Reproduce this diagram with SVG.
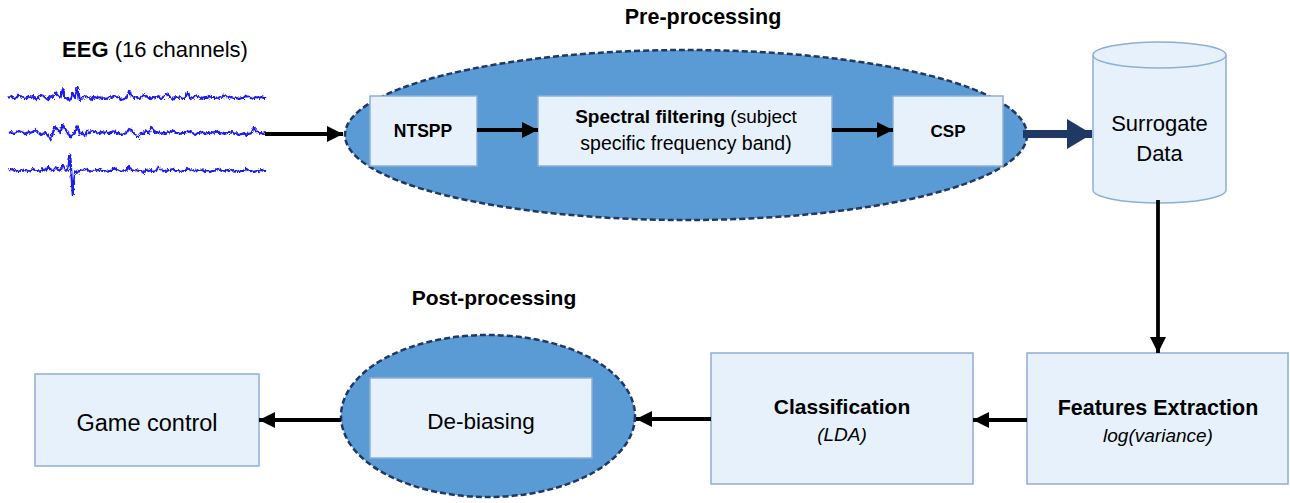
<svg xmlns="http://www.w3.org/2000/svg" width="1290" height="503" viewBox="0 0 1290 503">
  <style>
    text { font-family: "Liberation Sans", Arial, sans-serif; fill: #000; text-anchor: middle; }
    .b { font-weight: bold; }
    .i { font-style: italic; }
    .box { fill: #E6F1FC; stroke: #8FAED6; stroke-width: 1.5; }
    .zone { fill: #5B9BD5; stroke: #203864; stroke-width: 2.5; stroke-dasharray: 6 3; }
    .wave { fill: none; stroke: #1A1AF0; stroke-width: 2.2; stroke-linejoin: round; }
    .arr { fill: none; stroke: #000; stroke-width: 3.8; marker-end: url(#head); }
  </style>
  <defs>
    <marker id="head" markerUnits="userSpaceOnUse" markerWidth="17" markerHeight="18" refX="16" refY="9" orient="auto">
      <path d="M0,1 L16,9 L0,17 Z" fill="#000"/>
    </marker>
    <marker id="headBig" markerUnits="userSpaceOnUse" markerWidth="26" markerHeight="32" refX="25" refY="16" orient="auto">
      <path d="M0,1 L25,16 L0,31 Z" fill="#203864"/>
    </marker>
    <!-- fine jitter for the recorded signal traces -->
    <filter id="jitter" x="-2%" y="-40%" width="104%" height="180%">
      <feTurbulence type="turbulence" baseFrequency="0.6 0.2" numOctaves="2" seed="3" result="n"/>
      <feDisplacementMap in="SourceGraphic" in2="n" scale="3" xChannelSelector="R" yChannelSelector="G"/>
    </filter>
  </defs>

  <!-- EEG input signals -->
  <g id="eeg">
    <text x="155" y="57" font-size="22"><tspan class="b">EEG</tspan> (16 channels)</text>
    <g filter="url(#jitter)">
    <path class="wave" d="M8,97 l2.45,-2 2.45,3 2.45,-1 2.45,-3 2.45,2 2.45,1 2.45,1 2.45,-3 2.45,2 2.45,-2 2.45,4 2.45,-2 2.45,-3 2.45,1 2.45,2 2.45,2 2.45,-4 2.45,2 2.45,-5 2.45,3 2.45,2 2.45,-9 2.45,10 2.45,-1 2.45,3 2.45,-7 2.45,4 2.45,-10 2.45,13 2.45,-3 2.45,-2 2.45,1 2.45,1 2.45,2 2.45,-3 2.45,1 2.45,-1 2.45,2 2.45,-1 2.45,1 2.45,-2 2.45,1 2.45,-2 2.45,1 2.45,1 2.45,2 2.45,-1 2.45,-1 2.45,-7 2.45,5 2.45,2 2.45,-1 2.45,2 2.45,-1 2.45,-3 2.45,1 2.45,2 2.45,1 2.45,-2 2.45,1 2.45,-2 2.45,3 2.45,-1 2.45,-4 2.45,1 2.45,3 2.45,2 2.45,-3 2.45,1 2.45,-1 2.45,2 2.45,-1 2.45,-5 2.45,6 2.45,-1 2.45,-2 2.45,1 2.45,1 2.45,1 2.45,-1 2.45,0 2.45,-2 2.45,2 2.45,0 2.45,1 2.45,-2 2.45,1 2.45,-3 2.45,2 2.45,1 2.45,-1 2.45,2 2.45,-1 2.45,1 2.45,-1 2.45,0 2.45,-2 2.45,1 2.45,1 2.45,1 2.45,-2 2.45,1 2.45,-1 2.45,1 2.45,0"/>
    <path class="wave" d="M8,132 l2.45,-1 2.45,2 2.45,-1 2.45,-2 2.45,1 2.45,1 2.45,2 2.45,-3 2.45,1 2.45,-1 2.45,-2 2.45,3 2.45,2 2.45,-1 2.45,-1 2.45,3 2.45,4 2.45,-7 2.45,-6 2.45,3 2.45,3 2.45,-8 2.45,4 2.45,4 2.45,5 2.45,-3 2.45,-2 2.45,-7 2.45,9 2.45,-2 2.45,4 2.45,-6 2.45,2 2.45,-2 2.45,1 2.45,1 2.45,1 2.45,-2 2.45,1 2.45,-1 2.45,2 2.45,-1 2.45,-2 2.45,3 2.45,-1 2.45,2 2.45,-1 2.45,-1 2.45,-4 2.45,1 2.45,3 2.45,3 2.45,2 2.45,-5 2.45,1 2.45,-3 2.45,2 2.45,-5 2.45,2 2.45,3 2.45,-1 2.45,2 2.45,-1 2.45,1 2.45,-2 2.45,1 2.45,-3 2.45,3 2.45,0 2.45,1 2.45,-1 2.45,0 2.45,-2 2.45,1 2.45,1 2.45,2 2.45,-2 2.45,0 2.45,-1 2.45,2 2.45,-1 2.45,1 2.45,-2 2.45,1 2.45,-2 2.45,3 2.45,-1 2.45,1 2.45,-1 2.45,0 2.45,-1 2.45,2 2.45,-1 2.45,2 2.45,-1 2.45,-1 2.45,3 2.45,-2 2.45,-1 2.45,-5 2.45,3 2.45,2 2.45,0 2.45,1 2.45,-1"/>
    <path class="wave" d="M8,170 l2.45,-2 2.45,1 2.45,1 2.45,1 2.45,-2 2.45,1 2.45,-1 2.45,2 2.45,-1 2.45,-2 2.45,2 2.45,0 2.45,1 2.45,-3 2.45,2 2.45,-4 2.45,3 2.45,1 2.45,-3 2.45,1 2.45,2 2.45,-6 2.45,5 2.45,1 2.45,-16 2.45,40 2.45,-24 2.45,2 2.45,-3 2.45,1 2.45,-2 2.45,1 2.45,1 2.45,1 2.45,-2 2.45,1 2.45,-2 2.45,2 2.45,0 2.45,1 2.45,-1 2.45,0 2.45,-3 2.45,2 2.45,1 2.45,1 2.45,-2 2.45,1 2.45,-5 2.45,4 2.45,1 2.45,-1 2.45,1 2.45,0 2.45,2 2.45,-3 2.45,1 2.45,-1 2.45,2 2.45,-1 2.45,-4 2.45,3 2.45,1 2.45,1 2.45,-2 2.45,1 2.45,-2 2.45,2 2.45,0 2.45,1 2.45,-1 2.45,0 2.45,-3 2.45,2 2.45,1 2.45,1 2.45,-2 2.45,1 2.45,-1 2.45,2 2.45,-1 2.45,1 2.45,-1 2.45,0 2.45,-2 2.45,1 2.45,1 2.45,1 2.45,-2 2.45,1 2.45,-1 2.45,2 2.45,-1 2.45,1 2.45,-1 2.45,0 2.45,-2 2.45,2 2.45,0 2.45,1 2.45,-1 2.45,0 2.45,-1 2.45,1 2.45,0"/>
    </g>
  </g>

  <!-- Pre-processing stage -->
  <g id="preprocessing">
    <text class="b" x="703" y="24" font-size="21.5">Pre-processing</text>
    <ellipse class="zone" cx="686" cy="135" rx="341" ry="85"/>
  </g>
  <g id="ntspp">
    <rect class="box" x="370" y="96" width="107" height="70"/>
    <text class="b" x="423" y="137" font-size="17.5">NTSPP</text>
  </g>
  <g id="spectral">
    <rect class="box" x="538" y="96" width="294" height="70"/>
    <text x="686" y="123" font-size="19"><tspan class="b">Spectral filtering</tspan> (subject</text>
    <text x="686" y="150" font-size="19.5">specific frequency band)</text>
  </g>
  <g id="csp">
    <rect class="box" x="893" y="96" width="110" height="70"/>
    <text class="b" x="948" y="137" font-size="17">CSP</text>
  </g>

  <!-- Surrogate data store -->
  <g id="surrogate">
    <path d="M1093,55 V190 A66.5,13 0 0 0 1226,190 V55" fill="#E6F1FC" stroke="#8FAED6" stroke-width="1.5"/>
    <ellipse cx="1159.5" cy="55" rx="66.5" ry="13" fill="#E6F1FC" stroke="#8FAED6" stroke-width="1.5"/>
    <text x="1159.5" y="131" font-size="22">Surrogate</text>
    <text x="1159.5" y="161" font-size="22">Data</text>
  </g>

  <g id="features">
    <rect class="box" x="1027" y="353" width="261" height="131"/>
    <text class="b" x="1158" y="415" font-size="21.5">Features Extraction</text>
    <text class="i" x="1158" y="442" font-size="19">log(variance)</text>
  </g>

  <g id="classification">
    <rect class="box" x="711" y="353" width="262" height="131"/>
    <text class="b" x="842" y="414" font-size="21">Classification</text>
    <text class="i" x="842" y="441" font-size="19">(LDA)</text>
  </g>

  <!-- Post-processing stage -->
  <g id="postprocessing">
    <text class="b" x="494" y="305" font-size="21">Post-processing</text>
    <ellipse class="zone" cx="488" cy="416" rx="147" ry="81"/>
  </g>
  <g id="debiasing">
    <rect class="box" x="370" y="378" width="222" height="80"/>
    <text x="481" y="429" font-size="22.5">De-biasing</text>
  </g>

  <g id="game-control">
    <rect class="box" x="35" y="374" width="224" height="92"/>
    <text x="147" y="431" font-size="23.5">Game control</text>
  </g>

  <!-- Connectors -->
  <g id="connectors">
    <line class="arr" x1="265" y1="134" x2="343" y2="134"/>
    <line class="arr" x1="477" y1="130" x2="538" y2="130"/>
    <line class="arr" x1="832" y1="130" x2="893" y2="130"/>
    <line x1="1023" y1="134" x2="1092" y2="134" stroke="#203864" stroke-width="8" marker-end="url(#headBig)"/>
    <line class="arr" x1="1158" y1="200" x2="1158" y2="353"/>
    <line class="arr" x1="1027" y1="420" x2="973" y2="420"/>
    <line class="arr" x1="711" y1="419" x2="636" y2="419"/>
    <line class="arr" x1="341" y1="420" x2="259" y2="420"/>
  </g>
</svg>
